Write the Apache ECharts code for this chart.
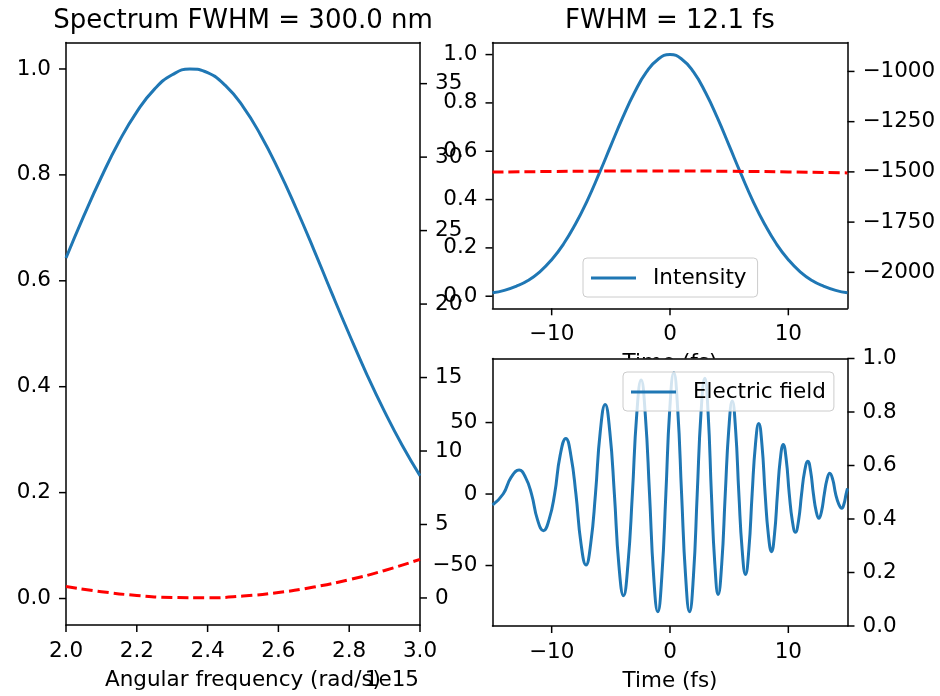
<!DOCTYPE html>
<html><head><meta charset="utf-8">
<script src="https://cdn.jsdelivr.net/npm/echarts@6/dist/echarts.min.js"></script>
<style>html,body{margin:0;padding:0;background:#fff}#c{width:940px;height:696px}</style>
</head><body><div id="c"></div>
<script>
// ---- data ----
const omega = [2.00,2.05,2.10,2.15,2.20,2.25,2.30,2.35,2.40,2.45,2.50,2.55,2.60,2.65,2.70,2.75,2.80,2.85,2.90,2.95,3.00]; // x1e15 rad/s
const spectrum = [0.643,0.722,0.796,0.863,0.919,0.962,0.989,1.000,0.993,0.969,0.929,0.875,0.810,0.737,0.659,0.578,0.499,0.423,0.353,0.289,0.232];
const omegaPhase = [2.0,2.1,2.2,2.3,2.4,2.5,2.6,2.7,2.8,2.9,3.0];
const spectralPhase = [0.78,0.43,0.17,0.03,0.01,0.13,0.37,0.74,1.24,1.87,2.63];

const timeI = [-15,-14,-13,-12,-11,-10,-9,-8,-7,-6,-5,-4,-3,-2,-1,0,1,2,3,4,5,6,7,8,9,10,11,12,13,14,15];
const intensity = [0.014,0.024,0.041,0.065,0.101,0.151,0.216,0.298,0.395,0.506,0.623,0.739,0.843,0.927,0.981,1.000,0.981,0.927,0.843,0.739,0.623,0.506,0.395,0.298,0.216,0.151,0.101,0.065,0.041,0.024,0.014];
const timePhase = [-15,-10,-5,0,5,10,15];
const temporalPhase = [-1501,-1498,-1496,-1495,-1497,-1500,-1505];

const timeE = [-15.0,-14.1,-13.42,-12.75,-12.22,-11.7,-11.2,-10.7,-10.22,-9.75,-9.28,-8.8,-8.38,-7.95,-7.52,-7.1,-6.7,-6.3,-5.89,-5.48,-5.09,-4.7,-4.32,-3.93,-3.56,-3.18,-2.81,-2.44,-2.09,-1.73,-1.38,-1.03,-0.69,-0.35,-0.02,0.32,0.65,0.98,1.32,1.65,1.98,2.3,2.62,2.94,3.22,3.5,3.79,4.07,4.37,4.67,4.97,5.26,5.54,5.82,6.1,6.38,6.66,6.94,7.22,7.5,7.77,8.04,8.31,8.58,8.83,9.08,9.32,9.57,9.82,10.08,10.34,10.6,10.86,11.12,11.38,11.65,11.88,12.12,12.35,12.58,12.81,13.04,13.27,13.5,13.75,14.0,14.26,14.52,14.7,14.88,15.0];
const field = [-7.7,0,11.8,16.8,11.8,0,-17.9,-25.6,-17.9,0,27.2,38.9,27.2,0,-34.7,-49.6,-34.7,0,43.9,62.7,43.9,0,-49.8,-71.1,-49.8,0,55.8,79.7,55.8,0,-57.6,-82.3,-57.6,0,59.4,84.8,59.4,0,-57.6,-82.3,-57.6,0,56.7,81,56.7,0,-49.1,-70.2,-49.1,0,45.5,65,45.5,0,-39.3,-56.2,-39.3,0,34.6,49.4,34.6,0,-28.2,-40.3,-28.2,0,24.3,34.7,24.3,0,-18.8,-26.8,-18.8,0,16.1,23,16.1,0,-11.9,-17,-11.9,0,10.2,14.5,10.2,0,-7,-10,-7,0,4];

// tick labels
const omegaTicks = [2.0,2.2,2.4,2.6,2.8,3.0];
const spectrumTicks = [0,0.2,0.4,0.6,0.8,1.0];
const spectralPhaseTicks = [0,5,10,15,20,25,30,35];
const timeTicks = [-10,0,10];
const intensityTicks = [0,0.2,0.4,0.6,0.8,1.0];
const temporalPhaseTicks = [-2000,-1750,-1500,-1250,-1000];
const fieldTicks = [-50,0,50];
const unitTicks = [0,0.2,0.4,0.6,0.8,1.0];

// ---- layout ----
const XLIM = [[2.0, 3.0], [-15, 15], [-15, 15]];
const YLIM = [[-0.05, 1.05], [-1.84, 37.8], [-0.05, 1.05], [-2179, -856], [-92.3, 94.8], [0, 1]];
const GRIDS = [[66, 42.5, 354, 582.5], [492.5, 42.5, 355, 265.8], [492.5, 358.5, 355, 267.5]];

// ---- chart ----
const FONT = 'DejaVu Sans';
const FS = 21.5;
const BLUE = '#1f77b4';
const TICK = 7;
const zip = (a,b) => a.map((v,i)=>[v,b[i]]);
const fmt1 = v => v.toFixed(1).replace('-', '\u2212');
const fmt0 = v => String(Math.round(v)).replace('-', '\u2212');

function axis(idx, pos, lim, ticks, formatter, extra) {
  const a = {
    type: 'value', gridIndex: idx, position: pos, min: lim[0], max: lim[1],
    axisLine: {show: true, onZero: false, lineStyle: {color: '#000', width: 1.5}},
    splitLine: {show: false},
    axisTick: {show: false},
    axisLabel: {customValues: ticks, margin: 15, color: '#000', fontSize: FS, fontFamily: FONT, formatter: formatter},
  };
  return Object.assign(a, extra || {});
}
function spine(idx) {
  return {type: 'value', gridIndex: idx, position: 'top', min: 0, max: 1,
    axisLine: {show: true, onZero: false, lineStyle: {color: '#000', width: 1.5}},
    axisTick: {show: false}, axisLabel: {show: false}, splitLine: {show: false}};
}
const nameStyle = {color: '#000', fontSize: FS, fontFamily: FONT};

// tick marks drawn as custom series through each axis' own scale
function xTickSeries(xi, yi, vals) {
  return {type: 'custom', xAxisIndex: xi, yAxisIndex: yi, clip: false, silent: true, z: 10,
    data: vals.map(v => [v, YLIM[yi][0]]),
    renderItem: (params, api) => {
      const p = api.coord([api.value(0), api.value(1)]);
      return {type: 'line', shape: {x1: p[0], y1: p[1], x2: p[0], y2: p[1] + TICK}, style: {stroke: '#000', lineWidth: 1.5}};
    }};
}
function yTickSeries(yi, xi, vals, side) {
  const xv = side === 'left' ? XLIM[xi][0] : XLIM[xi][1];
  const d = side === 'left' ? -TICK : TICK;
  return {type: 'custom', xAxisIndex: xi, yAxisIndex: yi, clip: false, silent: true, z: 10,
    data: vals.map(v => [xv, v]),
    renderItem: (params, api) => {
      const p = api.coord([api.value(0), api.value(1)]);
      return {type: 'line', shape: {x1: p[0], y1: p[1], x2: p[0] + d, y2: p[1]}, style: {stroke: '#000', lineWidth: 1.5}};
    }};
}

const titles = [
  {type: 'text', x: 243, y: 21, style: {text: 'Spectrum FWHM = 300.0 nm', font: '26px "DejaVu Sans"', fill: '#000', textAlign: 'center', textVerticalAlign: 'middle'}},
  {type: 'text', x: 670, y: 21, style: {text: 'FWHM = 12.1 fs', font: '26px "DejaVu Sans"', fill: '#000', textAlign: 'center', textVerticalAlign: 'middle'}},
  {type: 'text', x: 419, y: 680, z: 10, style: {text: '1e15', font: FS + 'px "DejaVu Sans"', fill: '#000', textAlign: 'right', textVerticalAlign: 'middle'}}
];

const chart = echarts.init(document.getElementById('c'));
chart.setOption({
  animation: false,
  backgroundColor: '#fff',
  grid: [
    {left: GRIDS[0][0], top: GRIDS[0][1], width: GRIDS[0][2], height: GRIDS[0][3], show: false},
    {left: GRIDS[1][0], top: GRIDS[1][1], width: GRIDS[1][2], height: GRIDS[1][3], show: false},
    {left: GRIDS[2][0], top: GRIDS[2][1], width: GRIDS[2][2], height: GRIDS[2][3], show: true, backgroundColor: '#fff', borderWidth: 0, z: 1}
  ],
  xAxis: [
    axis(0, 'bottom', XLIM[0], omegaTicks, fmt1, {name: 'Angular frequency (rad/s)', nameLocation: 'middle', nameGap: 44, nameTextStyle: nameStyle}),
    axis(1, 'bottom', XLIM[1], timeTicks, fmt0, {name: 'Time (fs)', nameLocation: 'middle', nameGap: 44, nameTextStyle: nameStyle}),
    axis(2, 'bottom', XLIM[2], timeTicks, fmt0, {name: 'Time (fs)', nameLocation: 'middle', nameGap: 44, nameTextStyle: nameStyle, z: 2}),
    spine(0), spine(1), Object.assign(spine(2), {z: 2})
  ],
  yAxis: [
    axis(0, 'left', YLIM[0], spectrumTicks, fmt1),
    axis(0, 'right', YLIM[1], spectralPhaseTicks, fmt0),
    axis(1, 'left', YLIM[2], intensityTicks, fmt1),
    axis(1, 'right', YLIM[3], temporalPhaseTicks, fmt0),
    axis(2, 'left', YLIM[4], fieldTicks, fmt0, {z: 2}),
    axis(2, 'right', YLIM[5], unitTicks, fmt1, {z: 2})
  ],
  legend: [
    {data: ['Intensity'], left: 583, top: 258, itemWidth: 45, itemHeight: 3, icon: 'rect', selectedMode: false,
     padding: [9, 11, 8, 8], backgroundColor: 'rgba(255,255,255,0.8)', borderColor: '#cccccc', borderWidth: 1, borderRadius: 4,
     textStyle: {fontSize: FS, fontFamily: FONT, color: '#000', padding: [0, 0, 0, 12]}},
    {data: ['Electric field'], left: 623, top: 372, itemWidth: 45, itemHeight: 3, icon: 'rect', selectedMode: false,
     padding: [9, 8, 8, 8], backgroundColor: 'rgba(255,255,255,0.8)', borderColor: '#cccccc', borderWidth: 1, borderRadius: 4,
     textStyle: {fontSize: FS, fontFamily: FONT, color: '#000', padding: [0, 0, 0, 12]}}
  ],
  graphic: titles,
  series: [
    {type: 'line', name: 'Spectrum', xAxisIndex: 0, yAxisIndex: 0, data: zip(omega, spectrum), symbol: 'none', smooth: true, color: BLUE, lineStyle: {color: BLUE, width: 3}},
    {type: 'line', name: 'Spectral phase', xAxisIndex: 0, yAxisIndex: 1, data: zip(omegaPhase, spectralPhase), symbol: 'none', smooth: true, color: 'red', lineStyle: {color: 'red', width: 3, type: [11, 5]}},
    {type: 'line', name: 'Intensity', xAxisIndex: 1, yAxisIndex: 2, data: zip(timeI, intensity), symbol: 'none', smooth: true, color: BLUE, lineStyle: {color: BLUE, width: 3}},
    {type: 'line', name: 'Temporal phase', xAxisIndex: 1, yAxisIndex: 3, data: zip(timePhase, temporalPhase), symbol: 'none', smooth: true, color: 'red', lineStyle: {color: 'red', width: 3, type: [11, 5]}},
    {type: 'line', name: 'Electric field', xAxisIndex: 2, yAxisIndex: 4, data: zip(timeE, field), symbol: 'none', smooth: true, color: BLUE, lineStyle: {color: BLUE, width: 3}},
    xTickSeries(0, 0, omegaTicks),
    xTickSeries(1, 2, timeTicks),
    xTickSeries(2, 4, timeTicks),
    yTickSeries(0, 0, spectrumTicks, 'left'),
    yTickSeries(1, 0, spectralPhaseTicks, 'right'),
    yTickSeries(2, 1, intensityTicks, 'left'),
    yTickSeries(3, 1, temporalPhaseTicks, 'right'),
    yTickSeries(4, 2, fieldTicks, 'left'),
    yTickSeries(5, 2, unitTicks, 'right')
  ]
});
</script></body></html>
